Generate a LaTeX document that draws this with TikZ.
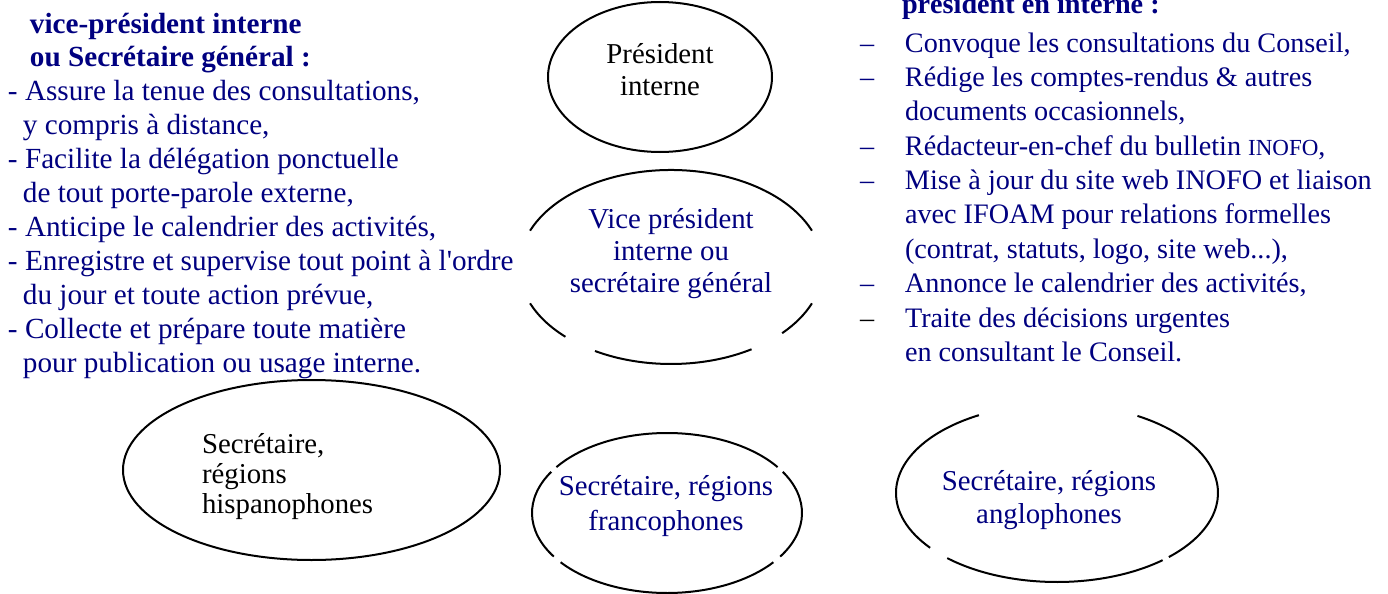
\documentclass[tikz,border=0pt]{standalone}
\usepackage{fontspec}
\setmainfont{Liberation Serif}
\newfontfamily\plainserif{Liberation Serif}
\definecolor{navy}{RGB}{0,0,128}
\begin{document}
\begin{tikzpicture}[x=0.5pt,y=0.5pt,
  ell/.style={line width=1pt, black},
  lbl/.style={inner sep=0pt, outer sep=0pt, anchor=base},
  blk/.style={inner sep=0pt, outer sep=0pt, anchor=base west, text=navy}]
\useasboundingbox[fill=white] (0,0) rectangle (1388,-594);

% ---- left text block
\node[blk] (lefttext) at (8,-33) {\fontsize{14.6}{16.95}\selectfont\begin{tabular}[t]{@{}l@{}}
\hspace{11pt}\textbf{vice-président interne}\\
\hspace{11pt}\textbf{ou Secrétaire général :}\\
- Assure la tenue des consultations,\\
\hspace{7.5pt}y compris à distance,\\
- Facilite la délégation ponctuelle\\
\hspace{7.5pt}de tout porte-parole externe,\\
- Anticipe le calendrier des activités,\\
- Enregistre et supervise tout point à l{\plainserif '}ordre\\
\hspace{7.5pt}du jour et toute action prévue,\\
- Collecte et prépare toute matière\\
\hspace{7.5pt}pour publication ou usage interne.
\end{tabular}};

% ---- right text block
\node[blk] (righttitle) at (902,-13) {\fontsize{14.1}{17}\selectfont\bfseries président en interne :};
\node[blk] (righttext) at (860,-52) {\fontsize{14.1}{17.2}\selectfont\begin{tabular}[t]{@{}l@{}}
\makebox[22.5pt][l]{\textendash}Convoque les consultations du Conseil,\\
\makebox[22.5pt][l]{\textendash}Rédige les comptes-rendus \& autres\\
\hspace{22.5pt}documents occasionnels,\\
\makebox[22.5pt][l]{\textendash}Rédacteur-en-chef du bulletin {\fontsize{11.5}{12}\selectfont INOFO},\\
\makebox[22.5pt][l]{\textendash}Mise à jour du site web INOFO et liaison\\
\hspace{22.5pt}avec IFOAM pour relations formelles\\
\hspace{22.5pt}(contrat, statuts, logo, site web...),\\
\makebox[22.5pt][l]{\textendash}Annonce le calendrier des activités,\\
\makebox[22.5pt][l]{\color{black}\textendash}Traite des décisions urgentes\\
\hspace{22.5pt}en consultant le Conseil.
\end{tabular}};

% ---- ellipse: President interne
\coordinate (cP) at (660,-77);
\draw[ell] (cP) ellipse [x radius=112, y radius=75];
\node[lbl] (pres) at (660,-63) {\fontsize{14.4}{16}\selectfont\begin{tabular}[t]{@{}c@{}}Président\\interne\end{tabular}};

% ---- ellipse: Vice president (broken outline)
\coordinate (cV) at (671,-267);
\foreach \a/\b in {22/158, 202/226, 240/302, 317/338}
  \draw[ell] (cV) ++(\a:152 and 97) arc[start angle=\a, end angle=\b, x radius=152, y radius=97];
\node[lbl, text=navy] (vice) at (671,-228) {\fontsize{14.4}{16}\selectfont\begin{tabular}[t]{@{}c@{}}Vice président\\interne ou\\secrétaire général\end{tabular}};

% ---- ellipse: hispanophones
\coordinate (cH) at (311.5,-470);
\draw[ell] (cH) ellipse [x radius=188.5, y radius=90];
\node[lbl, anchor=base west] (hisp) at (202,-453) {\fontsize{14.4}{15}\selectfont\begin{tabular}[t]{@{}l@{}}Secrétaire,\\régions\\hispanophones\end{tabular}};

% ---- ellipse: francophones (small gaps)
\coordinate (cF) at (667,-513);
\foreach \a/\b in {35/145, 149/213, 218/322, 327/391}
  \draw[ell] (cF) ++(\a:135 and 80) arc[start angle=\a, end angle=\b, x radius=135, y radius=80];
\node[lbl, text=navy] (franco) at (666,-495) {\fontsize{14.4}{17.5}\selectfont\begin{tabular}[t]{@{}c@{}}Secrétaire, régions\\francophones\end{tabular}};

% ---- ellipse: anglophones (broken top)
\coordinate (cA) at (1057,-493);
\foreach \a/\b in {119/218, 227/311, 314/420}
  \draw[ell] (cA) ++(\a:161 and 89) arc[start angle=\a, end angle=\b, x radius=161, y radius=89];
\node[lbl, text=navy] (anglo) at (1049,-490) {\fontsize{14.4}{16.5}\selectfont\begin{tabular}[t]{@{}c@{}}Secrétaire, régions\\anglophones\end{tabular}};
\end{tikzpicture}
\end{document}
